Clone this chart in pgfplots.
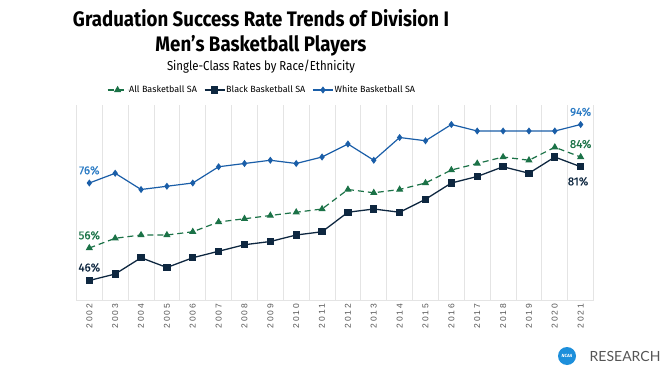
\documentclass[border=0pt]{standalone}
\usepackage{fontspec}
\setmainfont{Fira Sans}
\usepackage{graphicx}
\usepackage{pgfplots}
\pgfplotsset{compat=1.18}
\newfontfamily\tickfont[LetterSpace=25]{Liberation Sans}
\newfontfamily\logofont{Lato}
\newfontfamily\medfont[FakeBold=0.6]{Fira Sans}
\definecolor{wblue}{HTML}{1A5EA8}
\definecolor{wbluel}{HTML}{2B7BC4}
\definecolor{bnavy}{HTML}{0E2740}
\definecolor{agreen}{HTML}{1B7247}
\definecolor{gridc}{HTML}{E4E4E4}
\definecolor{tickc}{HTML}{555555}
\definecolor{ncaablue}{HTML}{1D8FDB}
\begin{document}
\begin{tikzpicture}[x=1pt,y=1pt]
\useasboundingbox (0,0) rectangle (670,376);
\node[font=\bfseries\fontsize{21}{24}\selectfont] at (261,357.5) {\resizebox{376pt}{\height}{Graduation Success Rate Trends of Division I}};
\node[font=\bfseries\fontsize{21}{24}\selectfont] at (261,330.3) {\resizebox{211pt}{\height}{Men’s Basketball Players}};
\node[font=\fontsize{13}{15}\selectfont] at (261,309) {\resizebox{188pt}{\height}{Single-Class Rates by Race/Ethnicity}};
\begin{axis}[
  at={(76.4pt,76pt)}, anchor=south west,
  scale only axis, width=517.2pt, height=195pt,
  xmin=-0.5, xmax=19.5, ymin=40, ymax=100,
  axis y line=none, axis x line*=bottom,
  x axis line style={draw=gridc, line width=1pt, -},
  ytick=\empty,
  xtick={0,...,19},
  xticklabels={2002,2003,2004,2005,2006,2007,2008,2009,2010,2011,2012,2013,2014,2015,2016,2017,2018,2019,2020,2021},
  xticklabel style={rotate=90, anchor=east, font=\tickfont\fontsize{8.5}{10}\selectfont, text=tickc},
  major tick length=0pt, minor tick length=0pt,
  minor xtick={-0.5,0.5,...,19.5},
  xminorgrids, minor grid style={draw=gridc, line width=0.8pt},
  clip=false,
  legend columns=3,
  legend style={at={(0.358,1.077)}, anchor=center, draw=none, fill=none,
    font=\fontsize{9}{11}\selectfont, inner sep=0pt,
    nodes={inner sep=1pt},
    /tikz/every odd column/.append style={column sep=0pt},
    /tikz/every even column/.append style={column sep=6pt}},
  legend image code/.code={\draw[#1, mark=none] (0pt,0pt) -- (20pt,0pt);
     \draw[#1, only marks] plot coordinates {(10pt,0pt)};},
]
\addplot[agreen, line width=1.2pt, dash pattern=on 6pt off 4pt, mark=triangle*, mark size=3pt, mark options={solid}] coordinates {
(0,56)(1,59)(2,60)(3,60)(4,61)(5,64)(6,65)(7,66)(8,67)(9,68)(10,74)(11,73)(12,74)(13,76)(14,80)(15,82)(16,84)(17,83)(18,87)(19,84)};
\addlegendentry{All Basketball SA}
\addplot[bnavy, line width=1.3pt, mark=square*, mark size=3pt] coordinates {
(0,46)(1,48)(2,53)(3,50)(4,53)(5,55)(6,57)(7,58)(8,60)(9,61)(10,67)(11,68)(12,67)(13,71)(14,76)(15,78)(16,81)(17,79)(18,84)(19,81)};
\addlegendentry{Black Basketball SA}
\addplot[wblue, line width=1.2pt, mark=diamond*, mark size=2.6pt] coordinates {
(0,76)(1,79)(2,74)(3,75)(4,76)(5,81)(6,82)(7,83)(8,82)(9,84)(10,88)(11,83)(12,90)(13,89)(14,94)(15,92)(16,92)(17,92)(18,92)(19,94)};
\addlegendentry{White Basketball SA}
\node[text=wbluel, font=\medfont\fontsize{11.5}{13}\selectfont] at (axis cs:0,79.9) {76\%};
\node[text=agreen, font=\medfont\fontsize{11.5}{13}\selectfont] at (axis cs:0,59.9) {56\%};
\node[text=bnavy, font=\medfont\fontsize{11.5}{13}\selectfont] at (axis cs:0,50) {46\%};
\node[text=wbluel, font=\medfont\fontsize{11.5}{13}\selectfont] at (axis cs:19,97.9) {94\%};
\node[text=agreen, font=\medfont\fontsize{11.5}{13}\selectfont] at (axis cs:19,88) {84\%};
\node[text=bnavy, font=\medfont\fontsize{11.5}{13}\selectfont] at (axis cs:18.9,76.5) {81\%};
\end{axis}
\fill[ncaablue] (567,20) circle (9);
\node[text=white, font=\bfseries\itshape\fontsize{4.5}{5}\selectfont, inner sep=0pt] at (567,20) {NCAA};
\node[anchor=west, text=tickc, font=\logofont\fontsize{14}{16}\selectfont, inner sep=0pt] at (589.5,20) {RESEARCH};
\end{tikzpicture}
\end{document}
